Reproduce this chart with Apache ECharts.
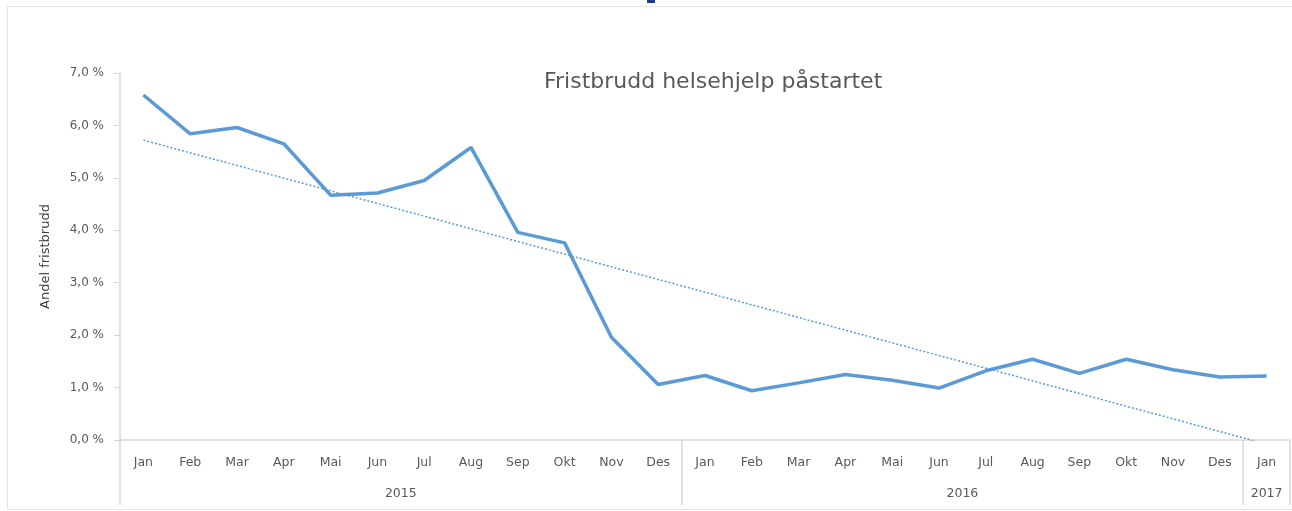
<!DOCTYPE html>
<html>
<head>
<meta charset="utf-8">
<script src="https://cdn.jsdelivr.net/npm/echarts@6/dist/echarts.min.js"></script>
<style>
  html, body { margin: 0; padding: 0; background: #fff; }
  #chart { width: 1292px; height: 511px; }
</style>
</head>
<body>
<div id="chart"></div>
<script>
// months, 2015 jan -> 2017 jan
const months = ['Jan', 'Feb', 'Mar', 'Apr', 'Mai', 'Jun', 'Jul', 'Aug', 'Sep', 'Okt', 'Nov', 'Des',
  'Jan', 'Feb', 'Mar', 'Apr', 'Mai', 'Jun', 'Jul', 'Aug', 'Sep', 'Okt', 'Nov', 'Des', 'Jan'];
const years = ['2015', '2016', '2017'];
const yearCenters = [6, 18, 24.5];
const yearBounds = [0, 12, 24, 25];

// andel fristbrudd, %
const andel = [6.58, 5.84, 5.96, 5.65, 4.67, 4.71, 4.95, 5.58, 3.96, 3.76, 1.96, 1.06,
  1.23, 0.94, 1.09, 1.25, 1.14, 0.99, 1.32, 1.54, 1.27, 1.54, 1.34, 1.2, 1.22];

// linear trend, value at first and last month
const trend = [5.72, -0.08];

const textColor = '#595959';
const axisColor = '#d9d9d9';
const blue = '#5b9bd5';
const font = 'DejaVu Sans';

const chart = echarts.init(document.getElementById('chart'));

const last = months.length - 1;
const trendData = months.map((m, i) => (i === 0 ? trend[0] : i === last ? trend[1] : null));

chart.setOption({
  animation: false,
  backgroundColor: '#fff',
  title: {
    text: 'Fristbrudd helsehjelp påstartet',
    left: 539,
    top: 66,
    textStyle: { color: textColor, fontSize: 22, fontWeight: 'normal', fontFamily: font },
  },
  graphic: [
    {
      type: 'rect',
      shape: { x: 7.5, y: 6.5, width: 1300, height: 503 },
      style: { fill: 'none', stroke: '#e3e3e3', lineWidth: 1 },
      silent: true,
    },
    {
      type: 'rect',
      shape: { x: 647, y: 0, width: 8, height: 3 },
      style: { fill: '#1f3a8a' },
      silent: true,
    },
  ],
  grid: { left: 120, right: 2, top: 73, bottom: 71 },
  xAxis: [
    {
      type: 'category',
      data: months,
      boundaryGap: true,
      axisLine: { lineStyle: { color: axisColor, width: 1.5 } },
      axisTick: { show: false },
      axisLabel: { color: textColor, fontSize: 12.5, fontFamily: font, margin: 16, interval: 0 },
    },
    {
      type: 'value',
      min: 0,
      max: 25,
      position: 'bottom',
      axisLine: { show: false },
      splitLine: { show: false },
      axisTick: {
        show: true,
        customValues: yearBounds,
        length: 65,
        lineStyle: { color: axisColor, width: 1.5 },
      },
      axisLabel: {
        color: textColor,
        fontSize: 12.5,
        fontFamily: font,
        margin: 47,
        customValues: yearCenters,
        formatter: (v) => years[yearCenters.indexOf(v)] || '',
      },
    },
  ],
  yAxis: {
    type: 'value',
    min: 0,
    max: 7,
    interval: 1,
    name: 'Andel fristbrudd',
    nameLocation: 'middle',
    nameGap: 68,
    nameTextStyle: { color: '#404040', fontSize: 13, fontFamily: font },
    axisLine: { show: true, lineStyle: { color: axisColor, width: 1.5 } },
    axisTick: { show: true, length: 6, lineStyle: { color: axisColor } },
    splitLine: { show: false },
    axisLabel: {
      color: textColor,
      fontSize: 12,
      fontFamily: font,
      margin: 16,
      formatter: (v) => v.toFixed(1).replace('.', ',') + ' %',
    },
  },
  series: [
    {
      type: 'line',
      data: andel,
      symbol: 'none',
      lineStyle: { color: blue, width: 3.5 },
      z: 3,
    },
    {
      type: 'line',
      data: trendData,
      connectNulls: true,
      symbol: 'none',
      clip: true,
      lineStyle: { color: blue, width: 1.5, type: [2, 2] },
      z: 2,
    },
  ],
});
</script>
</body>
</html>
